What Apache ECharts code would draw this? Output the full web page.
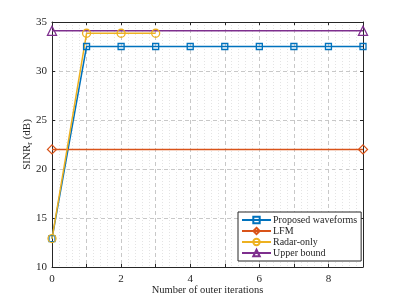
<!DOCTYPE html>
<html><head><meta charset="utf-8">
<script src="https://cdn.jsdelivr.net/npm/echarts@6/dist/echarts.min.js"></script>
<style>html,body{margin:0;padding:0;background:#fff}#c{width:402px;height:301px}</style>
</head><body><div id="c"></div>
<script>
const iterations = [0,1,2,3,4,5,6,7,8,9];
const proposed = [12.9,32.5,32.5,32.5,32.5,32.5,32.5,32.5,32.5,32.5];
const lfmX = [0,9];
const lfm = [22,22];
const radarX = [0,1,2,3];
const radarOnly = [12.9,33.85,33.85,33.85];
const upperX = [0,9];
const upper = [34.1,34.1];
const yTicks = [10,15,20,25,30,35];
const xLabels = [0,2,4,6,8];

const F = 'Liberation Serif';
const axisCol = '#262626';
const zip = (xs, ys) => xs.map((x,i)=>[x, ys[i]]);
function mk(name, xs, ys, color, symbol, size){
  return {name, type:'line', data: zip(xs, ys), symbol, symbolSize:size,
    lineStyle:{color, width:1.5}, itemStyle:{color:'rgba(255,255,255,0)', borderColor:color, borderWidth:1.3},
    emphasis:{disabled:true}, animation:false, z:3};
}
const chart = echarts.init(document.getElementById('c'), null, {renderer:'canvas'});
chart.setOption({
  animation:false,
  grid:{left:52,right:39,top:22,bottom:34,containLabel:false},
  xAxis:[{type:'value',min:0,max:9,interval:1,
    axisLine:{show:true,onZero:false,lineStyle:{color:axisCol,width:1}},
    axisTick:{inside:true,length:3,lineStyle:{color:axisCol}},
    axisLabel:{fontFamily:F,fontSize:11,color:axisCol,margin:7,
      formatter:v=>xLabels.includes(v)?String(v):''},
    splitLine:{show:true,lineStyle:{color:'#c8c8c8',type:[4,3],width:1}},
    minorTick:{show:false,splitNumber:5},
    minorSplitLine:{show:true,lineStyle:{color:'#e4e4e4',type:[1,2],width:1}},
    name:'Number of outer iterations',nameLocation:'middle',nameGap:18,nameMoveOverlap:false,
    nameTextStyle:{fontFamily:F,fontSize:10.5,color:axisCol}},
   {type:'value',position:'top',min:0,max:9,interval:1,
    axisLine:{show:true,onZero:false,lineStyle:{color:axisCol,width:1}},
    axisTick:{inside:true,length:3,lineStyle:{color:axisCol}},
    axisLabel:{show:false},splitLine:{show:false}}],
  yAxis:[{type:'value',min:10,max:35,interval:5,
    axisLine:{show:true,onZero:false,lineStyle:{color:axisCol,width:1}},
    axisTick:{inside:true,length:3,lineStyle:{color:axisCol}},
    axisLabel:{fontFamily:F,fontSize:11,color:axisCol,margin:5},
    splitLine:{show:true,lineStyle:{color:'#c8c8c8',type:[4,3],width:1}},
    name:'{a|SINR}{b|r}{a| (dB)}',nameLocation:'middle',nameGap:18,nameRotate:90,nameMoveOverlap:false,
    nameTextStyle:{rich:{a:{fontFamily:F,fontSize:11,color:axisCol},
      b:{fontFamily:F,fontSize:8,color:axisCol,padding:[6,0,0,0]}}}},
   {type:'value',position:'right',min:10,max:35,interval:5,
    axisLine:{show:true,onZero:false,lineStyle:{color:axisCol,width:1}},
    axisTick:{inside:true,length:3,lineStyle:{color:axisCol}},
    axisLabel:{show:false},splitLine:{show:false}}],
  legend:{orient:'vertical',left:238,top:212,
    backgroundColor:'#fff',borderColor:axisCol,borderWidth:1,borderRadius:0,
    padding:[3,4,3,3],itemGap:1,itemWidth:29,itemHeight:8,
    textStyle:{fontFamily:F,fontSize:10,lineHeight:10,color:axisCol,padding:[0,0,0,-3]},
    data:['Proposed waveforms','LFM','Radar-only','Upper bound']},
  series:[
    mk('Proposed waveforms', iterations, proposed, '#0072BD','rect',6),
    mk('LFM', lfmX, lfm, '#D95319','diamond',9),
    mk('Radar-only', radarX, radarOnly, '#EDB120','circle',8),
    mk('Upper bound', upperX, upper, '#7E2F8E','triangle',9)
  ]
});
</script></body></html>
